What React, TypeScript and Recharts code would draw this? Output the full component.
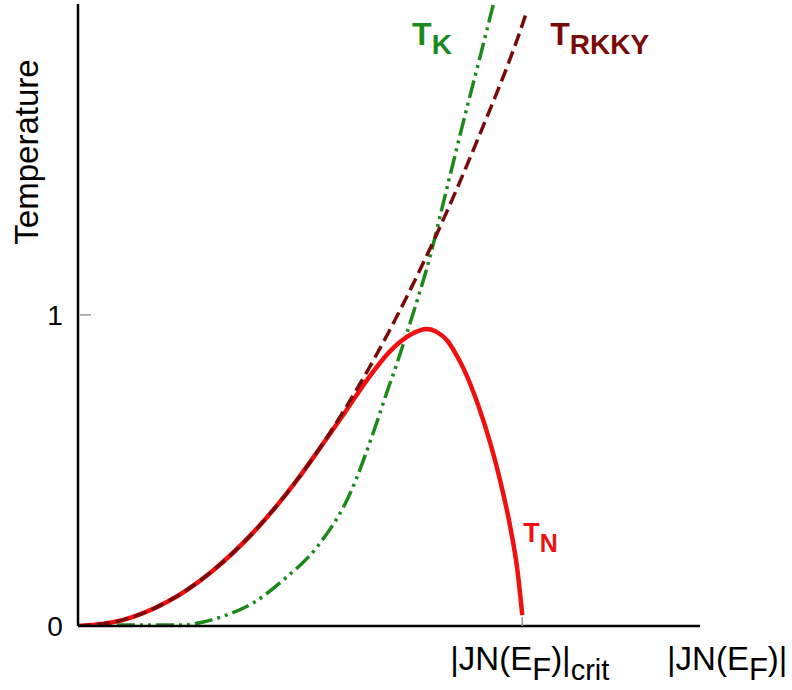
import React from 'react'
import { LineChart, Line, XAxis, YAxis, ReferenceDot, Label } from 'recharts'

const FONT = '"Liberation Sans", Arial, sans-serif'

// x in units of |JN(E_F)|_crit, temperature in units of the "1" tick
const rkkyX = [0, 0.1, 0.2, 0.3, 0.4, 0.5, 0.6, 0.7, 0.8, 0.9, 1.0, 1.011]
const rkkyY = [0, 0.019, 0.077, 0.174, 0.309, 0.483, 0.696, 0.947, 1.237, 1.566, 1.933, 1.98]

const neelX = [0, 0.1, 0.2, 0.3, 0.4, 0.5, 0.55, 0.6, 0.65, 0.7, 0.75, 0.785, 0.808, 0.831, 0.85, 0.867, 0.899, 0.928, 0.95, 0.973, 0.989, 1.0]
const neelY = [0, 0.019, 0.077, 0.174, 0.309, 0.483, 0.583, 0.685, 0.79, 0.88, 0.938, 0.955, 0.945, 0.918, 0.876, 0.83, 0.717, 0.588, 0.469, 0.318, 0.18, 0.035]

const kondoX = [0, 0.11, 0.236, 0.282, 0.336, 0.394, 0.462, 0.538, 0.613, 0.669, 0.696, 0.718, 0.741, 0.764, 0.786, 0.831, 0.876, 0.905, 0.935]
const kondoY = [0, 0.003, 0.003, 0.013, 0.036, 0.074, 0.148, 0.254, 0.428, 0.64, 0.755, 0.845, 0.945, 1.05, 1.154, 1.412, 1.67, 1.83, 2.0]

const yTicks = [0, 1]
const xTicks = [1]

const toPoints = (xs: number[], ys: number[]) => xs.map((x, i) => ({ x, y: ys[i] }))

const rkkyData = toPoints(rkkyX, rkkyY)
const neelData = toPoints(neelX, neelY)
const kondoData = toPoints(kondoX, kondoY)

const YTick = (props: any) => {
    const { y, payload } = props
    return (
        <g>
            {payload.value === 1 && <line x1={80} x2={91} y1={y} y2={y} stroke="#999" strokeWidth={1.5} />}
            <text x={55} y={y + 10} textAnchor="middle" fontFamily={FONT} fontSize={28} fill="#000">
                {payload.value}
            </text>
        </g>
    )
}

const XTick = (props: any) => {
    const { x } = props
    return (
        <g>
            <line x1={x} x2={x} y1={617} y2={626} stroke="#999" strokeWidth={1.5} />
            <text x={x - 72} y={670} fontFamily={FONT} fontSize={33} fill="#000">
                <tspan>|JN(E</tspan>
                <tspan dy={10} fontSize={31}>F</tspan>
                <tspan dy={-10}>)|</tspan>
                <tspan dy={10} fontSize={29}>crit</tspan>
            </text>
        </g>
    )
}

const curveLabel = (main: string, sub: string, color: string, mainSize: number, subSize: number, shift: number) =>
    (props: any) => (
        <text x={props.cx} y={props.cy} fontFamily={FONT} fontWeight="bold" fill={color} fontSize={mainSize}>
            <tspan>{main}</tspan>
            <tspan dy={shift} fontSize={subSize}>{sub}</tspan>
        </text>
    )

export default function App() {
    return (
        <div style={{ position: 'absolute', left: 0, top: 0, background: '#fff' }}>
            <LineChart width={792} height={690} margin={{ top: 4, right: 92, left: 18, bottom: 34 }}>
                <XAxis
                    type="number"
                    dataKey="x"
                    domain={[0, 1.4]}
                    ticks={xTicks}
                    tick={<XTick />}
                    tickLine={false}
                    axisLine={{ stroke: '#000', strokeWidth: 2.5 }}
                    allowDataOverflow
                >
                    <Label
                        content={() => (
                            <text x={667} y={670} fontFamily={FONT} fontSize={33} fill="#000">
                                <tspan>|JN(E</tspan>
                                <tspan dy={10} fontSize={31}>F</tspan>
                                <tspan dy={-10}>)|</tspan>
                            </text>
                        )}
                    />
                </XAxis>
                <YAxis
                    type="number"
                    domain={[0, 2]}
                    ticks={yTicks}
                    tick={<YTick />}
                    tickLine={false}
                    axisLine={{ stroke: '#000', strokeWidth: 2.5 }}
                    allowDataOverflow
                >
                    <Label
                        content={() => (
                            <text
                                x={38}
                                y={152}
                                transform="rotate(-90, 38, 152)"
                                textAnchor="middle"
                                fontFamily={FONT}
                                fontSize={33}
                                fill="#000"
                            >
                                Temperature
                            </text>
                        )}
                    />
                </YAxis>
                <Line
                    data={kondoData}
                    dataKey="y"
                    type="monotone"
                    stroke="#1b8a1b"
                    strokeWidth={3.5}
                    strokeDasharray="18 5 3 5 3 5"
                    dot={false}
                    isAnimationActive={false}
                />
                <Line
                    data={neelData}
                    dataKey="y"
                    type="monotone"
                    stroke="#f01010"
                    strokeWidth={4.5}
                    dot={false}
                    isAnimationActive={false}
                />
                <Line
                    data={rkkyData}
                    dataKey="y"
                    type="monotone"
                    stroke="#7a0a0a"
                    strokeWidth={3.5}
                    strokeDasharray="13 6"
                    dot={false}
                    isAnimationActive={false}
                />
                <ReferenceDot x={0.752} y={1.868} r={0} shape={curveLabel('T', 'K', '#1b8a1b', 32, 28, 9)} />
                <ReferenceDot x={1.063} y={1.868} r={0} shape={curveLabel('T', 'RKKY', '#7a0a0a', 32, 28, 9)} />
                <ReferenceDot x={1.002} y={0.27} r={0} shape={curveLabel('T', 'N', '#f01010', 27, 25, 10)} />
            </LineChart>
        </div>
    )
}
